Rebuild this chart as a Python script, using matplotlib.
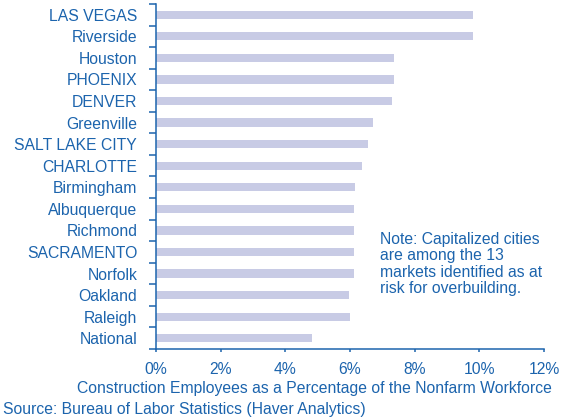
import matplotlib
matplotlib.use("Agg")
import matplotlib.pyplot as plt
from matplotlib.ticker import FixedLocator, PercentFormatter

cities = ["LAS VEGAS", "Riverside", "Houston", "PHOENIX", "DENVER", "Greenville",
          "SALT LAKE CITY", "CHARLOTTE", "Birmingham", "Albuquerque", "Richmond",
          "SACRAMENTO", "Norfolk", "Oakland", "Raleigh", "National"]
share = [9.79, 9.79, 7.37, 7.35, 7.31, 6.72, 6.56, 6.37, 6.16, 6.12, 6.12,
         6.12, 6.12, 5.97, 6.00, 4.83]
xticks = [0, 2, 4, 6, 8, 10, 12]

blue = "#1c64ad"
bar_col = "#c8cbe5"
plt.rcParams["font.family"] = ["Liberation Sans", "DejaVu Sans"]
fs = 11.35

fig = plt.figure(figsize=(5.63, 4.19), dpi=100)
ax = fig.add_axes([156 / 563, 1 - 349 / 419, 388 / 563, 345 / 419])

pos = list(range(len(cities)))
ax.barh(pos, share, height=0.38, color=bar_col)
ax.set_ylim(len(cities) - 0.5, -0.5)
ax.set_xlim(0, 12)

# ticks sit between the bars, labels on the bar centres
ax.yaxis.set_major_locator(FixedLocator([p - 0.5 for p in pos] + [len(cities) - 0.5]))
ax.yaxis.set_major_formatter(plt.NullFormatter())
ax.set_yticks(pos, cities, minor=True)
ax.tick_params(axis="y", which="minor", length=0, pad=13.5, labelsize=fs, labelcolor=blue)
ax.tick_params(axis="y", which="major", length=5, width=1.1, color=blue, direction="out")

ax.set_xticks(xticks)
ax.xaxis.set_major_formatter(PercentFormatter(decimals=0))
ax.tick_params(axis="x", length=2.5, width=1.1, color=blue, labelsize=fs, labelcolor=blue, pad=6.5)

for s in ["top", "right"]:
    ax.spines[s].set_visible(False)
for s in ["left", "bottom"]:
    ax.spines[s].set_color(blue)
    ax.spines[s].set_linewidth(1.1)

fig.text(552 / 563, 1 - 388 / 419, "Construction Employees as a Percentage of the Nonfarm Workforce",
         ha="right", va="center", fontsize=fs, color=blue)
fig.text(3 / 563, 1 - 409 / 419, "Source: Bureau of Labor Statistics (Haver Analytics)",
         ha="left", va="center", fontsize=fs, color=blue)
ax.text(6.93, 11.55, "Note: Capitalized cities\nare among the 13\nmarkets identified as at\nrisk for overbuilding.",
        ha="left", va="center", fontsize=fs, color=blue, linespacing=1.12)

fig.savefig("out.png", dpi=100)
